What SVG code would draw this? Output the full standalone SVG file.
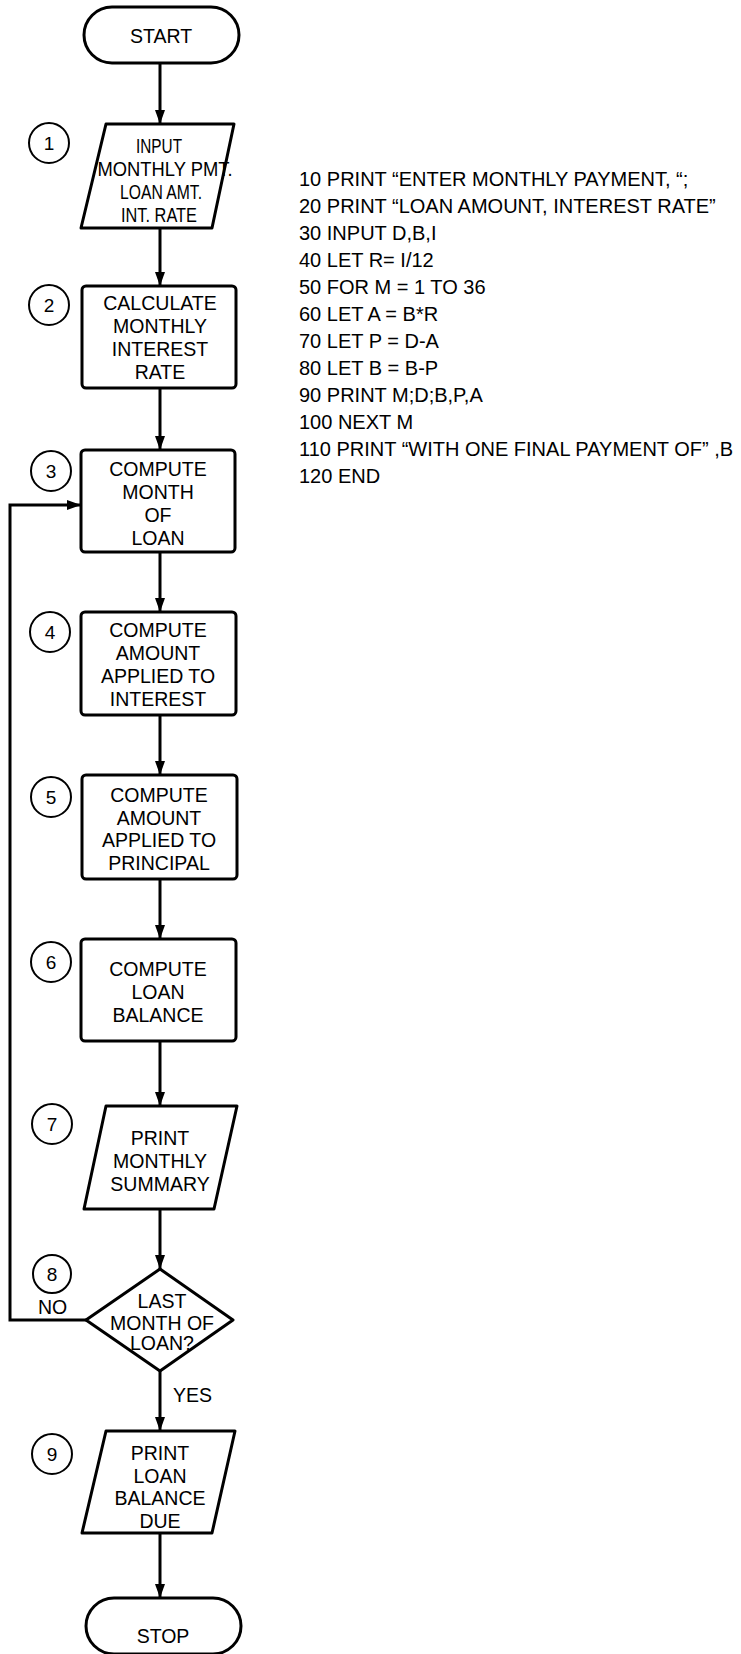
<svg xmlns="http://www.w3.org/2000/svg" width="741" height="1654" viewBox="0 0 741 1654">
<defs>
<style>
.shape{fill:#fff;stroke:#000;stroke-width:3;stroke-linejoin:round}
.num{fill:#fff;stroke:#000;stroke-width:2}
.t{font-family:"Liberation Sans",Arial,sans-serif;font-size:19.5px;fill:#000;text-anchor:middle}
.n{font-family:"Liberation Sans",Arial,sans-serif;font-size:19px;fill:#000;text-anchor:middle}
.code{font-family:"Liberation Sans",Arial,sans-serif;font-size:20px;fill:#000}
.lbl{font-family:"Liberation Sans",Arial,sans-serif;font-size:19.5px;fill:#000}
.conn{fill:none;stroke:#000;stroke-width:3;stroke-linejoin:miter}
</style>
<marker id="arrow" viewBox="0 0 14 10" refX="14" refY="5" markerWidth="14" markerHeight="10" markerUnits="userSpaceOnUse" orient="auto">
<path d="M0,0 L14,5 L0,10 z" fill="#000"/>
</marker>
</defs>
<rect width="741" height="1654" fill="#fff"/>

<g id="connectors">
<line class="conn" x1="160" y1="63" x2="160" y2="124" marker-end="url(#arrow)"/>
<line class="conn" x1="160" y1="228" x2="160" y2="286" marker-end="url(#arrow)"/>
<line class="conn" x1="160" y1="388" x2="160" y2="450" marker-end="url(#arrow)"/>
<line class="conn" x1="160" y1="552" x2="160" y2="612" marker-end="url(#arrow)"/>
<line class="conn" x1="160" y1="715" x2="160" y2="775" marker-end="url(#arrow)"/>
<line class="conn" x1="160" y1="879" x2="160" y2="939" marker-end="url(#arrow)"/>
<line class="conn" x1="160" y1="1041" x2="160" y2="1106" marker-end="url(#arrow)"/>
<line class="conn" x1="160" y1="1209" x2="160" y2="1269" marker-end="url(#arrow)"/>
<line class="conn" x1="160" y1="1371" x2="160" y2="1431" marker-end="url(#arrow)"/>
<line class="conn" x1="160" y1="1533" x2="160" y2="1598" marker-end="url(#arrow)"/>
<polyline class="conn" points="86,1320 10,1320 10,505 81,505" marker-end="url(#arrow)"/>
<text class="lbl" x="38" y="1314">NO</text>
<text class="lbl" x="173" y="1402">YES</text>
</g>

<g id="start">
<rect class="shape" x="84" y="7" width="155" height="56" rx="28"/>
<text class="t" x="161" y="43">START</text>
</g>

<g id="n1">
<circle class="num" cx="49" cy="143" r="20"/>
<text class="n" x="49" y="150">1</text>
<polygon class="shape" points="106,124 234,124 212,228 81,228"/>
<text class="t" x="159" y="153" textLength="46" lengthAdjust="spacingAndGlyphs">INPUT</text>
<text class="t" x="165" y="176" textLength="135" lengthAdjust="spacingAndGlyphs">MONTHLY PMT.</text>
<text class="t" x="161" y="199" textLength="82" lengthAdjust="spacingAndGlyphs">LOAN AMT.</text>
<text class="t" x="159" y="222" textLength="76" lengthAdjust="spacingAndGlyphs">INT. RATE</text>
</g>

<g id="n2">
<circle class="num" cx="49" cy="305" r="20"/>
<text class="n" x="49" y="312">2</text>
<rect class="shape" x="82" y="286" width="154" height="102" rx="4"/>
<text class="t" x="160" y="310">CALCULATE</text>
<text class="t" x="160" y="333">MONTHLY</text>
<text class="t" x="160" y="356">INTEREST</text>
<text class="t" x="160" y="379">RATE</text>
</g>

<g id="n3">
<circle class="num" cx="51" cy="471" r="20"/>
<text class="n" x="51" y="478">3</text>
<rect class="shape" x="81" y="450" width="154" height="102" rx="4"/>
<text class="t" x="158" y="476">COMPUTE</text>
<text class="t" x="158" y="499">MONTH</text>
<text class="t" x="158" y="522">OF</text>
<text class="t" x="158" y="545">LOAN</text>
</g>

<g id="n4">
<circle class="num" cx="50" cy="632" r="20"/>
<text class="n" x="50" y="639">4</text>
<rect class="shape" x="81" y="612" width="155" height="103" rx="4"/>
<text class="t" x="158" y="637">COMPUTE</text>
<text class="t" x="158" y="660">AMOUNT</text>
<text class="t" x="158" y="683">APPLIED TO</text>
<text class="t" x="158" y="706">INTEREST</text>
</g>

<g id="n5">
<circle class="num" cx="51" cy="797" r="20"/>
<text class="n" x="51" y="804">5</text>
<rect class="shape" x="82" y="775" width="155" height="104" rx="4"/>
<text class="t" x="159" y="802">COMPUTE</text>
<text class="t" x="159" y="825">AMOUNT</text>
<text class="t" x="159" y="847">APPLIED TO</text>
<text class="t" x="159" y="870">PRINCIPAL</text>
</g>

<g id="n6">
<circle class="num" cx="51" cy="962" r="20"/>
<text class="n" x="51" y="969">6</text>
<rect class="shape" x="81" y="939" width="155" height="102" rx="4"/>
<text class="t" x="158" y="976">COMPUTE</text>
<text class="t" x="158" y="999">LOAN</text>
<text class="t" x="158" y="1022">BALANCE</text>
</g>

<g id="n7">
<circle class="num" cx="52" cy="1124" r="20"/>
<text class="n" x="52" y="1131">7</text>
<polygon class="shape" points="106,1106 237,1106 214,1209 84,1209"/>
<text class="t" x="160" y="1145">PRINT</text>
<text class="t" x="160" y="1168">MONTHLY</text>
<text class="t" x="160" y="1191">SUMMARY</text>
</g>

<g id="n8">
<circle class="num" cx="52" cy="1274" r="19"/>
<text class="n" x="52" y="1281">8</text>
<polygon class="shape" points="160,1269 233,1320 160,1371 86,1320"/>
<text class="t" x="162" y="1308">LAST</text>
<text class="t" x="162" y="1330">MONTH OF</text>
<text class="t" x="162" y="1350">LOAN?</text>
</g>

<g id="n9">
<circle class="num" cx="52" cy="1454" r="20"/>
<text class="n" x="52" y="1461">9</text>
<polygon class="shape" points="106,1431 235,1431 212,1533 82,1533"/>
<text class="t" x="160" y="1460">PRINT</text>
<text class="t" x="160" y="1483">LOAN</text>
<text class="t" x="160" y="1505">BALANCE</text>
<text class="t" x="160" y="1528">DUE</text>
</g>

<g id="stop">
<rect class="shape" x="86" y="1598" width="155" height="56" rx="28"/>
<text class="t" x="163" y="1643">STOP</text>
</g>

<g id="code">
<text class="code" x="299" y="186">10 PRINT “ENTER MONTHLY PAYMENT, “;</text>
<text class="code" x="299" y="213">20 PRINT “LOAN AMOUNT, INTEREST RATE”</text>
<text class="code" x="299" y="240">30 INPUT D,B,I</text>
<text class="code" x="299" y="267">40 LET R= I/12</text>
<text class="code" x="299" y="294">50 FOR M = 1 TO 36</text>
<text class="code" x="299" y="321">60 LET A = B*R</text>
<text class="code" x="299" y="348">70 LET P = D-A</text>
<text class="code" x="299" y="375">80 LET B = B-P</text>
<text class="code" x="299" y="402">90 PRINT M;D;B,P,A</text>
<text class="code" x="299" y="429">100 NEXT M</text>
<text class="code" x="299" y="456">110 PRINT “WITH ONE FINAL PAYMENT OF” ,B</text>
<text class="code" x="299" y="483">120 END</text>
</g>
</svg>
